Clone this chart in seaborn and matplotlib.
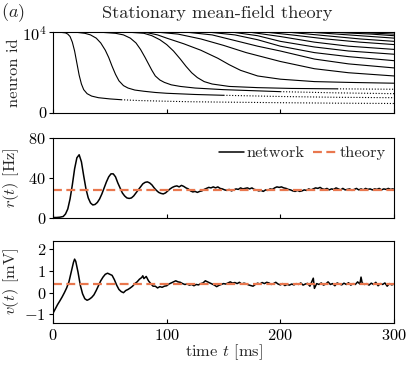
import numpy as np
import pandas as pd
import seaborn as sns
import matplotlib
matplotlib.use("Agg")
import matplotlib.pyplot as plt

# raster: k-th spike of every neuron (time in ms, neuron id as fraction of 1e4)
spike_t = [
    [8, 11, 13, 15, 17, 19, 21, 23, 25, 27, 30, 34, 40, 50, 60, 75, 94, 120, 150, 200, 250, 300],
    [22, 28, 33, 38, 42, 46, 49, 52, 55, 58, 62, 66, 72, 80, 90, 100, 125, 150, 200, 250, 300],
    [45, 55, 62, 68, 73, 77, 81, 84, 87, 90, 94, 98, 104, 112, 125, 150, 200, 250, 300],
    [70, 80, 87, 94, 100, 106, 112, 117, 122, 127, 133, 140, 155, 180, 210, 250, 300],
    [82, 92, 100, 115, 130, 145, 155, 165, 180, 200, 230, 260, 300],
    [95, 110, 130, 150, 170, 200, 230, 260, 300],
    [120, 140, 160, 180, 200, 230, 260, 300],
    [140, 160, 180, 200, 230, 260, 300],
    [160, 180, 200, 230, 260, 300],
    [175, 200, 230, 260, 300],
    [190, 210, 240, 270, 300],
    [210, 240, 270, 300],
    [230, 260, 300],
    [250, 280, 300],
    [270, 300],
]
spike_id = [
    [1.0, 0.995, 0.98, 0.95, 0.88, 0.77, 0.62, 0.47, 0.36, 0.29, 0.24, 0.21, 0.19, 0.175, 0.165, 0.155, 0.148, 0.14, 0.135, 0.128, 0.122, 0.118],
    [1.0, 0.99, 0.97, 0.93, 0.87, 0.78, 0.69, 0.58, 0.48, 0.40, 0.34, 0.31, 0.285, 0.27, 0.255, 0.245, 0.23, 0.22, 0.205, 0.195, 0.19],
    [1.0, 0.99, 0.97, 0.93, 0.87, 0.79, 0.69, 0.61, 0.53, 0.46, 0.41, 0.38, 0.35, 0.33, 0.31, 0.29, 0.265, 0.25, 0.24],
    [1.0, 0.99, 0.96, 0.91, 0.85, 0.77, 0.67, 0.58, 0.50, 0.44, 0.39, 0.36, 0.33, 0.315, 0.305, 0.30, 0.295],
    [1.0, 0.97, 0.93, 0.86, 0.78, 0.68, 0.6, 0.53, 0.46, 0.42, 0.39, 0.38, 0.37],
    [1.0, 0.98, 0.92, 0.84, 0.75, 0.64, 0.55, 0.5, 0.46],
    [1.0, 0.97, 0.9, 0.83, 0.77, 0.67, 0.61, 0.56],
    [1.0, 0.97, 0.91, 0.83, 0.75, 0.70, 0.65],
    [1.0, 0.96, 0.89, 0.82, 0.77, 0.73],
    [1.0, 0.95, 0.88, 0.83, 0.79],
    [1.0, 0.97, 0.92, 0.88, 0.85],
    [1.0, 0.96, 0.92, 0.89],
    [1.0, 0.97, 0.93],
    [1.0, 0.98, 0.96],
    [1.0, 0.98],
]
# sparse (dotted) part of the lowest curves starts here
tail_start = [60, 150, 200, 250]

rate_t = [0, 3, 6, 9, 11, 13, 15, 17, 19, 21, 23, 25, 27, 29, 31, 33, 35, 37, 39, 41,
          43, 45, 47, 49, 51, 53, 55, 57, 59, 61, 63, 65, 67, 69, 71, 73, 75, 77, 79, 81,
          83, 85, 87, 89, 91, 93, 95, 97, 99, 101, 103, 105, 107, 109, 111, 113, 115, 117, 119, 121,
          123, 125, 127, 129, 131, 133, 135, 137, 139, 141, 143, 145, 147, 149, 151, 153, 155, 157, 159, 161,
          163, 165, 167, 169, 171, 173, 175, 177, 179, 181, 183, 185, 187, 189, 191, 193, 195, 197, 199, 201,
          203, 205, 207, 209, 211, 213, 215, 217, 219, 221, 223, 225, 227, 229, 231, 233, 235, 237, 239, 241,
          243, 245, 247, 249, 251, 253, 255, 257, 259, 261, 263, 265, 267, 269, 271, 273, 275, 277, 279, 281,
          283, 285, 287, 289, 291, 293, 295, 297, 299, 300]
rate = [0.5, 0.5, 0.8, 1.5, 4, 9, 19, 33, 49, 60, 63, 56, 42, 29, 20, 15, 13, 13.5, 15.5, 19,
        24, 30, 36, 41, 44, 44, 41, 35, 30, 25, 22, 20, 19.5, 20, 22, 25, 28, 31, 34, 35.5,
        36, 35, 33, 30, 27.5, 25.5, 24.5, 24, 25, 27, 29, 30.5, 31.5, 32, 31, 32.5, 31.5, 30, 29, 27,
        26, 26.5, 25.5, 26.5, 27, 28.5, 29.5, 30.5, 30, 31, 30, 31, 29.5, 29, 28, 27.5, 28.5, 27, 28, 29,
        28.5, 30, 29, 29.5, 30, 29, 30, 28.5, 28, 27, 27.5, 26.5, 28, 27.5, 29, 28.5, 30, 31, 30.5, 31,
        30, 29.5, 28.5, 28, 27, 26.5, 27.5, 26.5, 27, 28, 27.5, 29, 28, 29, 30, 29.5, 30.5, 29, 28.5, 29.5,
        28, 29, 28.5, 30, 29, 28, 29.5, 28, 28.5, 29, 27.5, 28.5, 29.5, 28, 29, 28, 29.5, 28.5, 29, 28,
        29, 28.5, 29.5, 28, 29, 28.5, 29.5, 28.5, 29, 28.5]
rate_theory = 28.3

volt_t = [0, 2, 4, 6, 8, 10, 12, 14, 16, 18, 19, 20, 22, 24, 26, 28, 30, 32, 34, 36,
          38, 40, 42, 44, 46, 48, 50, 52, 54, 56, 58, 60, 62, 64, 66, 68, 70, 72, 74, 76,
          78, 79, 80, 82, 84, 86, 88, 90, 92, 94, 96, 98, 100, 102, 104, 106, 108, 110, 112, 114,
          116, 118, 120, 122, 124, 126, 128, 130, 132, 134, 136, 138, 140, 142, 144, 146, 148, 150, 152, 154,
          156, 158, 160, 162, 164, 166, 168, 170, 172, 174, 176, 178, 180, 182, 184, 186, 188, 190, 192, 194,
          196, 198, 200, 202, 204, 206, 208, 210, 212, 214, 216, 218, 220, 222, 224, 226, 228, 229, 230, 232,
          234, 236, 238, 240, 242, 244, 246, 248, 250, 252, 254, 256, 258, 260, 262, 264, 266, 268, 270, 271,
          272, 274, 276, 278, 280, 282, 284, 286, 288, 290, 292, 294, 296, 298, 300]
volt = [-0.95, -0.75, -0.55, -0.38, -0.2, 0.0, 0.22, 0.5, 0.95, 1.4, 1.55, 1.45, 0.95, 0.35, -0.05, -0.28, -0.35, -0.3, -0.22, -0.1,
        0.1, 0.32, 0.55, 0.72, 0.85, 0.9, 0.85, 0.8, 0.6, 0.35, 0.15, 0.05, 0.0, 0.1, 0.15, 0.22, 0.3, 0.42, 0.5, 0.62,
        0.7, 0.78, 0.65, 0.75, 0.55, 0.42, 0.3, 0.3, 0.22, 0.28, 0.25, 0.3, 0.32, 0.4, 0.45, 0.5, 0.55, 0.5, 0.48, 0.42,
        0.38, 0.4, 0.35, 0.38, 0.32, 0.38, 0.36, 0.42, 0.45, 0.55, 0.5, 0.45, 0.4, 0.35, 0.28, 0.34, 0.38, 0.42, 0.4, 0.45,
        0.5, 0.44, 0.47, 0.42, 0.48, 0.4, 0.44, 0.41, 0.36, 0.33, 0.3, 0.38, 0.44, 0.4, 0.47, 0.42, 0.48, 0.45, 0.38, 0.42,
        0.48, 0.4, 0.36, 0.42, 0.33, 0.38, 0.35, 0.4, 0.36, 0.42, 0.38, 0.45, 0.35, 0.4, 0.43, 0.3, 0.55, 0.67, 0.2, 0.42,
        0.38, 0.45, 0.35, 0.4, 0.5, 0.38, 0.42, 0.32, 0.45, 0.4, 0.36, 0.44, 0.38, 0.46, 0.35, 0.42, 0.38, 0.5, 0.4, 0.72,
        0.45, 0.38, 0.42, 0.35, 0.44, 0.38, 0.48, 0.32, 0.42, 0.38, 0.45, 0.3, 0.42, 0.36, 0.4]
volt_theory = 0.41

orange = "#e9774e"

sns.set_style("ticks")
plt.rcParams.update({
    "font.family": "serif",
    "font.serif": ["cmr10", "DejaVu Serif"],
    "mathtext.fontset": "cm",
    "axes.formatter.use_mathtext": True,
    "font.size": 11.8,
    "axes.linewidth": 0.8,
    "axes.edgecolor": "black",
    "xtick.color": "black",
    "ytick.color": "black",
})

fig = plt.figure(figsize=(4.09, 3.70), dpi=100)
ax_r = fig.add_axes([0.1296, 0.6946, 0.8337, 0.2176])
ax_m = fig.add_axes([0.1296, 0.4108, 0.8337, 0.2170])
ax_v = fig.add_axes([0.1296, 0.1270, 0.8337, 0.2224])

# raster
for k, (ts, ids) in enumerate(zip(spike_t, spike_id)):
    df = pd.DataFrame({"t": ts, "id": np.array(ids) * 1e4})
    if k < len(tail_start):
        solid = df[df.t <= tail_start[k]]
        dotted = df[df.t >= tail_start[k]]
        sns.lineplot(data=solid, x="t", y="id", ax=ax_r, color="black", lw=0.8, estimator=None)
        sns.lineplot(data=dotted, x="t", y="id", ax=ax_r, color="black", lw=0.8,
                     ls=(0, (1, 1.6)), estimator=None)
    else:
        sns.lineplot(data=df, x="t", y="id", ax=ax_r, color="black", lw=0.8, estimator=None)
ax_r.set_ylim(0, 1e4)
ax_r.set_yticks([0, 1e4])
ax_r.set_yticklabels(["0", "$10^4$"])
ax_r.set_ylabel("neuron id")

# rate
sns.lineplot(x=rate_t, y=rate, ax=ax_m, color="black", lw=1.1, label="network")
ax_m.axhline(rate_theory, color=orange, lw=1.6, dashes=(4, 2), label="theory")
ax_m.set_ylim(0, 80)
ax_m.set_yticks([0, 40, 80])
ax_m.set_ylabel("$r(t)$ [Hz]")
ax_m.legend(loc="upper right", ncol=2, frameon=False, handlelength=1.5,
            columnspacing=0.5, handletextpad=0.15, borderaxespad=0.1)

# voltage
sns.lineplot(x=volt_t, y=volt, ax=ax_v, color="black", lw=1.1)
ax_v.axhline(volt_theory, color=orange, lw=1.6, dashes=(4, 2))
ax_v.set_ylim(-1.4, 2.4)
ax_v.set_yticks([-1, 0, 1, 2])
ax_v.set_ylabel("$v(t)$ [mV]")
ax_v.set_xlabel("time $t$ [ms]", labelpad=0)

for ax in (ax_r, ax_m, ax_v):
    ax.set_xlim(0, 300)
    ax.set_xticks([0, 100, 200, 300])
    ax.tick_params(axis="x", direction="in", length=3, width=0.8)
    ax.tick_params(axis="y", direction="out", length=3, width=0.8, pad=2)
    ax.yaxis.set_label_coords(-0.095, 0.5)
    for s in ax.spines.values():
        s.set_visible(True)
for ax in (ax_r, ax_m):
    ax.set_xticklabels([])
    ax.set_xlabel("")

fig.text(217 / 409, 1 - 13 / 370, "Stationary mean-field theory", ha="center", va="center", fontsize=13.2)
fig.text(0.002, 1 - 13 / 370, "$(a)$", ha="left", va="center", fontsize=13)

fig.savefig("out.png", dpi=100)
